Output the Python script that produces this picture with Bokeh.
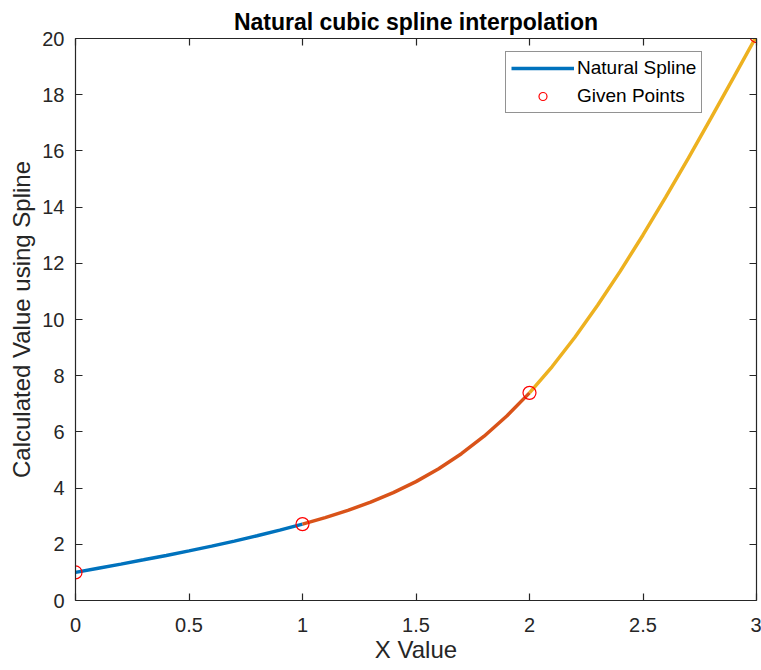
from bokeh.plotting import figure
from bokeh.models import Range1d, LinearAxis, FixedTicker, Legend, LegendItem
from bokeh.embed import file_html
from bokeh.resources import INLINE

# Spline curve values, per segment
seg1_x = [0.0, 0.1, 0.2, 0.3, 0.4, 0.5, 0.6, 0.7, 0.8, 0.9, 1.0]
seg1_y = [1.0, 1.147, 1.295, 1.447, 1.603, 1.765, 1.934, 2.113, 2.302, 2.503, 2.718]
seg2_x = [1.0, 1.1, 1.2, 1.3, 1.4, 1.5, 1.6, 1.7, 1.8, 1.9, 2.0]
seg2_y = [2.718, 2.950, 3.207, 3.499, 3.837, 4.230, 4.690, 5.225, 5.847, 6.565, 7.389]
seg3_x = [2.0, 2.1, 2.2, 2.3, 2.4, 2.5, 2.6, 2.7, 2.8, 2.9, 3.0]
seg3_y = [7.389, 8.326, 9.369, 10.504, 11.721, 13.009, 14.354, 15.746, 17.173, 18.623, 20.086]

# Given points
given_x = [0, 1, 2, 3]
given_y = [1.0, 2.718, 7.389, 20.086]

x_ticks = [0, 0.5, 1, 1.5, 2, 2.5, 3]
x_tick_labels = ["0", "0.5", "1", "1.5", "2", "2.5", "3"]
y_ticks = [0, 2, 4, 6, 8, 10, 12, 14, 16, 18, 20]
y_tick_labels = ["0", "2", "4", "6", "8", "10", "12", "14", "16", "18", "20"]

seg_colors = ["#0072BD", "#D95319", "#EDB120"]
FONT = "Liberation Sans"
AX = "#262626"

p = figure(width=761, height=670, output_backend="svg", toolbar_location=None,
           x_range=Range1d(0, 3), y_range=Range1d(0, 20),
           min_border_left=75, min_border_right=5, min_border_top=38, min_border_bottom=70,
           title="Natural cubic spline interpolation")
p.grid.visible = False
p.outline_line_color = None
p.background_fill_color = "white"
p.border_fill_color = "white"

p.title.text_font = FONT
p.title.text_font_size = "23px"
p.title.text_font_style = "bold"
p.title.text_color = "black"
p.title.align = "center"
p.title.text_line_height = 0.8
p.title.standoff = 8

def style_axis(ax, ticks, labels, show_labels=True):
    ax.ticker = FixedTicker(ticks=ticks)
    ax.major_tick_in = 7
    ax.major_tick_out = 0
    ax.minor_tick_in = 0
    ax.minor_tick_out = 0
    ax.axis_line_color = AX
    ax.axis_line_width = 1.2
    ax.major_tick_line_color = AX
    ax.major_tick_line_width = 1.2
    ax.major_label_text_font = FONT
    if show_labels:
        ax.major_label_overrides = {t: l for t, l in zip(ticks, labels)}
        ax.major_label_text_color = AX
        ax.major_label_text_font_size = "20px"
    else:
        ax.major_label_text_color = None
        ax.major_label_text_font_size = "1px"
        ax.major_label_standoff = 0

xa = p.xaxis[0]
ya = p.yaxis[0]
style_axis(xa, x_ticks, x_tick_labels)
style_axis(ya, y_ticks, y_tick_labels)
xa.major_label_standoff = 17
ya.major_label_standoff = 11
xa.axis_label = "X Value"
ya.axis_label = "Calculated Value using Spline"
for a in (xa, ya):
    a.axis_label_text_font = FONT
    a.axis_label_text_font_size = "24px"
    a.axis_label_text_font_style = "normal"
    a.axis_label_text_color = AX
xa.axis_label_standoff = 1
ya.axis_label_standoff = 4

top_ax = LinearAxis()
right_ax = LinearAxis()
style_axis(top_ax, x_ticks, x_tick_labels, show_labels=False)
style_axis(right_ax, y_ticks, y_tick_labels, show_labels=False)
p.add_layout(top_ax, "above")
p.add_layout(right_ax, "right")

r1 = p.line(seg1_x, seg1_y, line_color=seg_colors[0], line_width=3.5)
r2 = p.line(seg2_x, seg2_y, line_color=seg_colors[1], line_width=3.5)
r3 = p.line(seg3_x, seg3_y, line_color=seg_colors[2], line_width=3.5)
rp = p.scatter(given_x, given_y, marker="circle", size=13, fill_color=None,
               line_color="#FF0000", line_width=1.2)

legend = Legend(items=[LegendItem(label="Natural Spline", renderers=[r1]),
                       LegendItem(label="Given Points", renderers=[rp])],
                location=(430, 487), margin=0, padding=5, spacing=6,
                glyph_width=63, glyph_height=20, label_height=20, label_standoff=3,
                label_text_font=FONT, label_text_font_size="19px", label_text_color="#000000",
                border_line_color=AX, border_line_width=1.2, background_fill_color="white",
                background_fill_alpha=1.0)
p.add_layout(legend)

open("out.html", "w").write(file_html(p, INLINE))
